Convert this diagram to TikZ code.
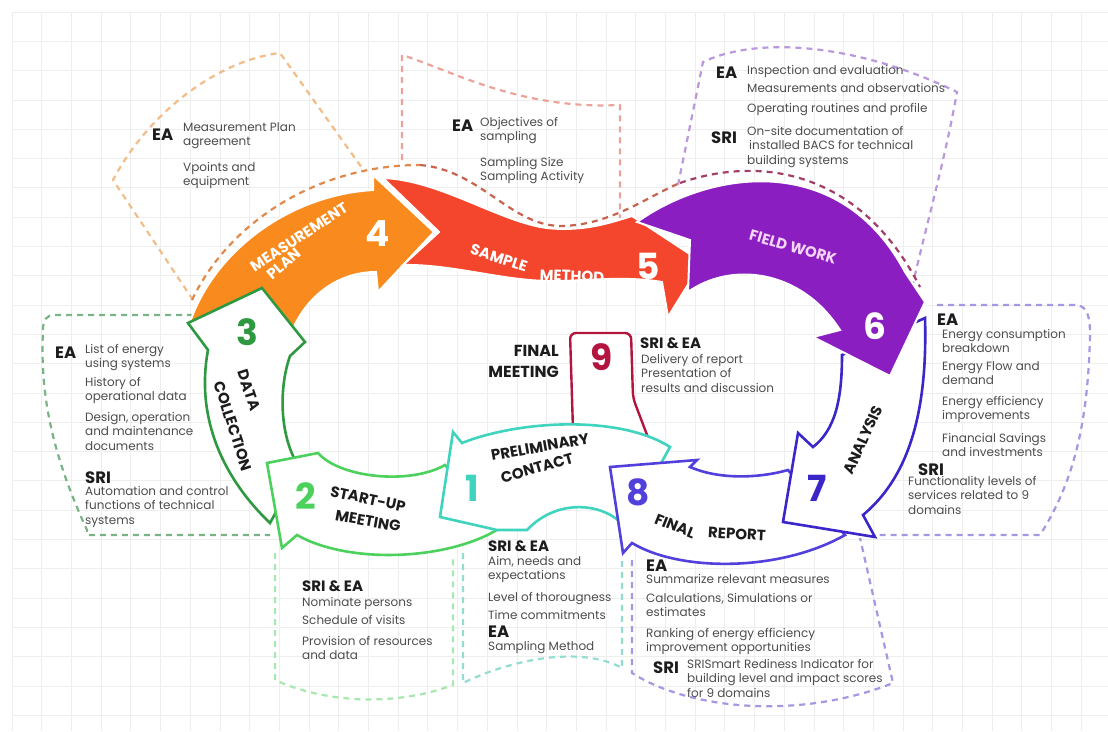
\documentclass[tikz,border=0pt]{standalone}
\usepackage{fontspec}
\setmainfont{Poppins}
\definecolor{c4}{HTML}{F98B1E}
\definecolor{c5}{HTML}{F4462C}
\definecolor{c6}{HTML}{8B1EC0}
\definecolor{c3}{HTML}{2E9940}
\definecolor{c2}{HTML}{4CD15C}
\definecolor{c1}{HTML}{40D3BE}
\definecolor{c8}{HTML}{5140DB}
\definecolor{c7}{HTML}{3A26C9}
\definecolor{c9}{HTML}{B3153F}
\definecolor{d4}{HTML}{F2BD88}
\definecolor{d4a}{HTML}{E0894A}
\definecolor{d5}{HTML}{EBA399}
\definecolor{d5a}{HTML}{C9634F}
\definecolor{d6}{HTML}{BA98DE}
\definecolor{d6a}{HTML}{A33E66}
\definecolor{d3}{HTML}{79B487}
\definecolor{d2}{HTML}{A6E8B0}
\definecolor{d1}{HTML}{93DDD0}
\definecolor{d8}{HTML}{A796E2}
\definecolor{gridc}{HTML}{EEEEEE}
\definecolor{bodyc}{HTML}{4D4D4D}
\definecolor{labc}{HTML}{1C1C1C}
\definecolor{fwc}{HTML}{F6D5F8}
\begin{document}
\begin{tikzpicture}[x=1pt,y=-1pt,
  fillarrow/.style={draw=white, line width=2pt, line join=miter},
  outarrow/.style={fill=white, line width=2.6pt, line join=miter},
  dbox/.style={dash pattern=on 6pt off 5pt, line width=2.2pt},
  num/.style={font=\fontsize{36}{36}\selectfont\bfseries, inner sep=0},
  lab/.style={font=\fontsize{15}{17}\selectfont\bfseries, text=labc, inner sep=0},
  big/.style={font=\fontsize{16.5}{16.5}\selectfont\bfseries, text=labc, anchor=west, inner sep=0},
  mid/.style={font=\fontsize{15}{15}\selectfont\bfseries, text=labc, anchor=west, inner sep=0},
  body/.style={font=\fontsize{12}{14.5}\selectfont, text=bodyc, anchor=north west, inner sep=0, align=left}]
\useasboundingbox (0,0) rectangle (1108,731);
\fill[white] (0,0) rectangle (1108,731);
% grid
\foreach \i in {0,...,37} \draw[gridc, line width=0.8pt] ({12+29.7*\i},12) -- ({12+29.7*\i},731);
\foreach \j in {0,...,24} \draw[gridc, line width=0.8pt] (12,{12+29.3*\j}) -- (1108,{12+29.3*\j});

% dashed boxes
\draw[dbox, d4] (193,300) -- (113,180) .. controls (150,110) and (220,60) .. (280,53) -- (362,168);
\draw[dbox, d4a] (192,300) .. controls (230,220) and (320,165) .. (420,165);
\draw[dbox, d5] (402,160) -- (402,55) .. controls (450,70) and (520,110) .. (620,105) -- (620,218);
\draw[dbox, d5a] (420,165) .. controls (480,170) and (510,225) .. (560,226) .. controls (610,226) and (650,195) .. (680,183);
\draw[dbox, d6] (678,185) -- (703,62) .. controls (760,35) and (860,45) .. (957,92) .. controls (945,160) and (925,230) .. (912,288);
\draw[dbox, d6a] (680,183) .. controls (760,155) and (860,170) .. (920,287);
\draw[dbox, d3] (193,315) -- (55,315) .. controls (46,315) and (43,320) .. (43,330) .. controls (40,390) and (50,450) .. (87,530) -- (87,535) -- (270,535);
\draw[dbox, d2] (275,553) -- (275,680) .. controls (330,705) and (400,705) .. (453,685) -- (453,555);
\draw[dbox, d1] (463,553) -- (463,683) .. controls (510,660) and (580,645) .. (622,668) -- (622,557);
\draw[dbox, d8] (632,560) -- (632,673) .. controls (690,710) and (800,720) .. (893,683) -- (860,538);
\draw[dbox, d8] (937,305) -- (1075,305) .. controls (1088,305) and (1090,318) .. (1090,335) .. controls (1088,420) and (1075,480) .. (1040,535) -- (877,535);

% arrows
\filldraw[fillarrow, fill=c4] (190,322) .. controls (215,250) and (290,195) .. (373,190) -- (373,175) -- (434,232) -- (378,292) -- (376,272) .. controls (335,272) and (300,300) .. (287,345) -- cycle;
\filldraw[fillarrow, fill=c5] (383,178) .. controls (440,180) and (500,222) .. (547,228) .. controls (585,232) and (612,222) .. (632,216) -- (702,262) -- (668,317) -- (662,282) .. controls (620,275) and (580,282) .. (547,281) .. controls (500,280) and (450,264) .. (403,265) -- (439,232) -- cycle;
\filldraw[outarrow, draw=c3] (262,288) -- (305,342) -- (290,356) .. controls (278,390) and (280,440) .. (300,468) -- (270,523) .. controls (225,480) and (195,420) .. (208,350) -- (188,323) -- cycle;
\filldraw[outarrow, draw=c2] (318,453) .. controls (340,478) and (410,485) .. (445,465) -- (500,528) .. controls (450,560) and (350,565) .. (297,535) -- (282,548) -- (267,463) -- cycle;
\filldraw[fill=white, draw=c9, line width=2.4pt, rounded corners=6pt] (573,430) -- (570,333) -- (631,333) -- (633,398) -- (652,448);
\filldraw[outarrow, draw=c1] (462,443) .. controls (520,420) and (620,415) .. (670,447) -- (625,528) .. controls (610,505) and (560,495) .. (527,530) -- (497,530) -- (440,517) -- (453,432) -- cycle;
\filldraw[outarrow, draw=c8] (690,467) .. controls (720,480) and (760,478) .. (788,470) -- (845,535) .. controls (780,572) and (680,572) .. (632,543) -- (623,553) -- (610,467) -- (697,460) -- cycle;
\filldraw[outarrow, draw=c7] (925,318) .. controls (928,420) and (905,480) .. (863,515) -- (875,537) -- (783,522) -- (798,433) -- (813,447) .. controls (835,430) and (842,400) .. (842,355) -- cycle;
\filldraw[fillarrow, fill=c6] (637,222) .. controls (710,170) and (840,150) .. (905,272) -- (925,302) -- (890,376) -- (813,337) -- (840,330) .. controls (800,268) and (730,262) .. (688,292) -- (690,240) -- cycle;

% numbers
\node[num, text=white] (n4) at (378,234) {4};
\node[num, text=white] (n5) at (648,266) {5};
\node[num, text=white] (n6) at (875,326) {6};
\node[num, text=c3] (n3) at (247,332) {3};
\node[num, text=c2] (n2) at (306,496) {2};
\node[num, text=c1] (n1) at (472,488) {1};
\node[num, text=c8] (n8) at (638,492) {8};
\node[num, text=c7] (n7) at (817,488) {7};
\node[num, text=c9] (n9) at (602,357) {9};

% arrow labels
\node[lab, text=white, rotate=33] (t4a) at (299,237) {MEASUREMENT};
\node[lab, text=white, rotate=40] (t4b) at (284,264) {PLAN};
\node[lab, text=white, rotate=-18] (t5a) at (499,258) {SAMPLE};
\node[lab, text=white, rotate=-2] (t5b) at (572,276) {METHOD};
\node[lab, text=fwc, rotate=-16] (t6) at (793,247) {FIELD WORK};
\node[lab, rotate=-72] (t3a) at (249,390) {DATA};
\node[lab, rotate=-72] (t3b) at (233,426) {COLLECTION};
\node[lab, rotate=-12] (t2a) at (368,499) {START-UP};
\node[lab, rotate=-10] (t2b) at (368,521) {MEETING};
\node[lab, rotate=10] (t1a) at (540,447) {PRELIMINARY};
\node[lab, rotate=16] (t1b) at (537,468) {CONTACT};
\node[lab, rotate=-22] (t8a) at (675,526) {FINAL};
\node[lab, rotate=-3] (t8b) at (737,534) {REPORT};
\node[lab, rotate=66] (t7) at (863,440) {ANALYSIS};
\node[lab, align=right, anchor=east, font=\fontsize{16}{21}\selectfont\bfseries] (fm) at (559,361) {FINAL\\MEETING};

% measurement plan box
\node[big] (ea4) at (152,135) {EA};
\node[body] (p4a) at (183,122) {Measurement Plan\\agreement};
\node[body] (p4b) at (183,162) {Vpoints and\\equipment};
% sample box
\node[big] (ea5) at (452,126) {EA};
\node[body] (p5a) at (480,117) {Objectives of\\sampling};
\node[body] (p5b) at (480,157) {Sampling Size\\Sampling Activity};
% field work box
\node[big] (ea6) at (716,73) {EA};
\node[body] (p6a) at (747,65) {Inspection and evaluation};
\node[body] (p6b) at (747,83) {Measurements and observations};
\node[body] (p6c) at (747,103) {Operating routines and profile};
\node[big] (sri6) at (711,138) {SRI};
\node[body] (p6d) at (747,126) {On-site documentation of\\\hspace{2pt}installed BACS for technical\\building systems};
% data collection box
\node[big] (ea3) at (55,353) {EA};
\node[body] (p3a) at (85,344) {List of energy\\using systems};
\node[body] (p3b) at (85,377) {History of\\operational data};
\node[body] (p3c) at (85,412) {Design, operation\\and maintenance\\documents};
\node[big] (sri3) at (85,478) {SRI};
\node[body] (p3d) at (85,486) {Automation and control\\functions of technical\\systems};
% start-up box
\node[mid] (se2) at (302,586) {SRI \& EA};
\node[body] (p2a) at (302,597) {Nominate persons};
\node[body] (p2b) at (302,615) {Schedule of visits};
\node[body] (p2c) at (302,636) {Provision of resources\\and data};
% preliminary box
\node[mid] (se1) at (488,546) {SRI \& EA};
\node[body] (p1a) at (488,556) {Aim, needs and\\expectations};
\node[body] (p1b) at (488,592) {Level of thorougness};
\node[body] (p1c) at (488,610) {Time commitments};
\node[big] (ea1) at (488,632) {EA};
\node[body] (p1d) at (488,641) {Sampling Method};
% final report box
\node[big] (ea8) at (646,566) {EA};
\node[body] (p8a) at (646,574) {Summarize relevant measures};
\node[body] (p8b) at (646,593) {Calculations, Simulations or\\estimates};
\node[body] (p8c) at (646,628) {Ranking of energy efficiency\\improvement opportunities};
\node[big] (sri8) at (653,668) {SRI};
\node[body] (p8d) at (687,659) {SRISmart Rediness Indicator for\\building level and impact scores\\for 9 domains};
% analysis box
\node[big] (ea7) at (937,320) {EA};
\node[body] (p7a) at (942,329) {Energy consumption\\breakdown};
\node[body] (p7b) at (942,361) {Energy Flow and\\demand};
\node[body] (p7c) at (942,396) {Energy efficiency\\improvements};
\node[body] (p7d) at (942,433) {Financial Savings\\and investments};
\node[big] (sri7) at (918,470) {SRI};
\node[body] (p7e) at (908,476) {Functionality levels of\\services related to 9\\domains};
% final meeting
\node[mid] (se9) at (640,343) {SRI \& EA};
\node[body] (p9) at (641,354) {Delivery of report\\Presentation of\\results and discussion};
\end{tikzpicture}
\end{document}
